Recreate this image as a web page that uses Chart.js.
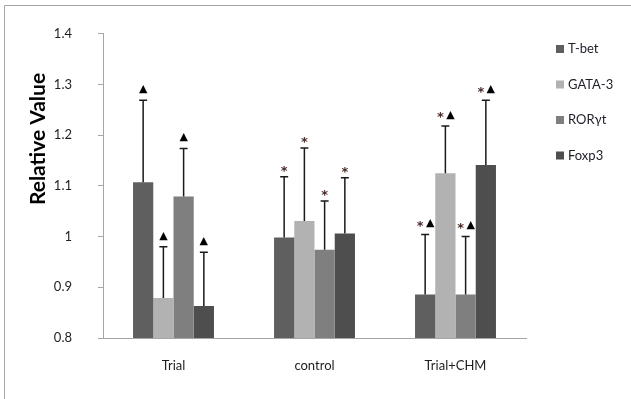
<!DOCTYPE html>
<html>
<head>
<meta charset="utf-8">
<script src="https://cdn.jsdelivr.net/npm/chart.js@4.4.1/dist/chart.umd.min.js"></script>
<style>
  html, body { margin: 0; padding: 0; background: #fff; }
  #wrap { width: 631px; height: 399px; }
</style>
</head>
<body>
<div id="wrap"><canvas id="grafica"></canvas></div>
<script>
// categorias y valores
const categories = ['Trial', 'control', 'Trial+CHM'];
const seriesNames = ['T-bet', 'GATA-3', 'RORγt', 'Foxp3'];
const tbet = [1.107, 0.998, 0.886];
const gata3 = [0.879, 1.031, 1.125];
const rorgt = [1.079, 0.974, 0.886];
const foxp3 = [0.863, 1.006, 1.141];
// desviacion (solo hacia arriba)
const tbetSd = [0.162, 0.120, 0.118];
const gata3Sd = [0.101, 0.144, 0.093];
const rorgtSd = [0.095, 0.096, 0.114];
const foxp3Sd = [0.106, 0.110, 0.128];
// marcas de significancia por categoria
const marks = ['▲', '*', '*▲'];
const yTicks = [0.8, 0.9, 1, 1.1, 1.2, 1.3, 1.4];

const colores = ['#5f5f5f', '#b2b2b2', '#7f7f7f', '#4e4e4e'];
const valores = [tbet, gata3, rorgt, foxp3];
const errores = [tbetSd, gata3Sd, rorgtSd, foxp3Sd];
const fuente = 'Lato, "Open Sans", sans-serif';

// marco, titulo del eje y leyenda
const decoracion = {
    id: 'decoracion',
    beforeDraw(chart) {
        const ctx = chart.ctx;
        ctx.save();
        ctx.strokeStyle = '#a6a6a6';
        ctx.lineWidth = 1;
        ctx.beginPath();
        ctx.moveTo(4.5, 399);
        ctx.lineTo(4.5, 5.5);
        ctx.lineTo(631, 5.5);
        ctx.stroke();
        ctx.restore();
    },
    afterDraw(chart) {
        const ctx = chart.ctx;
        ctx.save();
        // titulo eje y
        ctx.translate(38, 139);
        ctx.rotate(-Math.PI / 2);
        ctx.font = 'bold 21px ' + fuente;
        ctx.fillStyle = '#000';
        ctx.textAlign = 'center';
        ctx.textBaseline = 'middle';
        ctx.fillText('Relative Value', 0, 0);
        ctx.restore();

        // leyenda
        ctx.save();
        ctx.font = '13px ' + fuente;
        ctx.textBaseline = 'middle';
        ctx.textAlign = 'left';
        chart.data.datasets.forEach(function (ds, i) {
            let y = 49 + i * 35.5;
            ctx.fillStyle = ds.backgroundColor;
            ctx.fillRect(556, y - 4, 8, 8);
            ctx.fillStyle = '#1e1e2a';
            ctx.fillText(ds.label, 568, y);
        });
        ctx.restore();
    }
};

// barras de error y asteriscos / triangulos
const barrasError = {
    id: 'barrasError',
    afterDatasetsDraw(chart) {
        const ctx = chart.ctx;
        const y = chart.scales.y;
        ctx.save();
        chart.data.datasets.forEach(function (ds, i) {
            const meta = chart.getDatasetMeta(i);
            meta.data.forEach(function (bar, j) {
                let top = y.getPixelForValue(ds.data[j] + errores[i][j]);
                ctx.strokeStyle = '#1a1a1a';
                ctx.lineWidth = 1.5;
                ctx.beginPath();
                ctx.moveTo(bar.x, bar.y);
                ctx.lineTo(bar.x, top);
                ctx.moveTo(bar.x - 4, top);
                ctx.lineTo(bar.x + 4, top);
                ctx.stroke();

                let m = marks[j];
                ctx.textBaseline = 'middle';
                ctx.textAlign = 'center';
                if (m === '▲') {
                    ctx.font = '11px "DejaVu Sans"';
                    ctx.fillStyle = '#000';
                    ctx.fillText('▲', bar.x, top - 11);
                } else if (m === '*') {
                    ctx.font = 'bold 13px "DejaVu Sans"';
                    ctx.fillStyle = '#4a2a2a';
                    ctx.fillText('*', bar.x, top - 5);
                } else {
                    ctx.font = 'bold 13px "DejaVu Sans"';
                    ctx.fillStyle = '#4a2a2a';
                    ctx.fillText('*', bar.x - 5, top - 8);
                    ctx.font = '11px "DejaVu Sans"';
                    ctx.fillStyle = '#000';
                    ctx.fillText('▲', bar.x + 5, top - 11);
                }
            });
        });
        ctx.restore();
    }
};

new Chart(document.getElementById('grafica'), {
    type: 'bar',
    data: {
        labels: categories,
        datasets: seriesNames.map(function (nombre, i) {
            return {
                label: nombre,
                data: valores[i],
                backgroundColor: colores[i],
                borderWidth: 0,
                categoryPercentage: 0.574,
                barPercentage: 1
            };
        })
    },
    options: {
        responsive: true,
        maintainAspectRatio: false,
        animation: false,
        layout: { padding: { left: 0, right: 105, top: 16, bottom: 0 } },
        plugins: {
            legend: { display: false },
            tooltip: { enabled: false }
        },
        scales: {
            x: {
                grid: { display: false, drawTicks: false },
                border: { display: true, color: '#a6a6a6', width: 1 },
                ticks: { color: '#1e1e1e', font: { family: fuente, size: 13 }, padding: 20 },
                afterFit: function (scale) { scale.height = 61; }
            },
            y: {
                min: 0.8,
                max: 1.4,
                afterBuildTicks: function (scale) {
                    scale.ticks = yTicks.map(function (v) { return { value: v }; });
                },
                grid: { drawOnChartArea: false, drawTicks: true, tickLength: 5, color: '#a6a6a6' },
                border: { display: true, color: '#a6a6a6', width: 1 },
                ticks: {
                    color: '#1e1e1e',
                    font: { family: fuente, size: 13 },
                    padding: 26,
                    callback: function (v) { return String(Number(v.toFixed(1))); }
                },
                afterFit: function (scale) { scale.width = 103; }
            }
        }
    },
    plugins: [decoracion, barrasError]
});
</script>
</body>
</html>
